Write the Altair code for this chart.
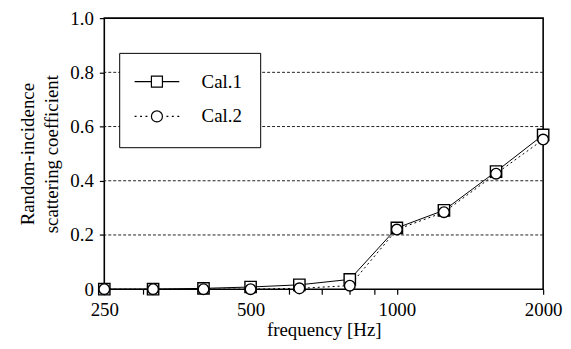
import altair as alt
import pandas as pd

# ---- data ----
freq = [250, 315, 400, 500, 630, 800, 1000, 1250, 1600, 2000]
cal1 = [0.0, 0.0, 0.003, 0.008, 0.016, 0.036, 0.226, 0.291, 0.434, 0.569]
cal2 = [0.0, 0.0, 0.0, 0.0, 0.003, 0.013, 0.220, 0.284, 0.426, 0.552]
series = ["Cal.1", "Cal.2"]

x_ticks = [250, 300, 400, 500, 600, 700, 800, 900, 1000, 2000]
x_labels = [250, 500, 1000, 2000]
y_ticks = [0, 0.1, 0.2, 0.3, 0.4, 0.5, 0.6, 0.7, 0.8, 0.9, 1.0]
y_labels = [0, 0.2, 0.4, 0.6, 0.8, 1.0]
grid_values = [0.2, 0.4, 0.6, 0.8]

FONT = "Liberation Serif"
FS = 19

df = pd.DataFrame({
    "freq": freq * 2,
    "value": cal1 + cal2,
    "series": [series[0]] * len(freq) + [series[1]] * len(freq),
})
grid_df = pd.DataFrame({"g": grid_values})

common_axis = dict(
    labelFont=FONT, labelFontSize=FS, labelColor="black",
    titleFont=FONT, titleFontSize=FS, titleFontWeight="normal", titleColor="black",
    grid=False, domain=False, tickSize=5, tickColor="black", tickWidth=1.2,
    labelOverlap=False,
)

x_enc = alt.X(
    "freq:Q",
    scale=alt.Scale(type="log", domain=[250, 2000], nice=False),
    axis=alt.Axis(
        values=x_ticks,
        labelExpr="indexof(" + str(x_labels) + ", datum.value) >= 0 ? format(datum.value, 'd') : ''",
        title="frequency [Hz]",
        labelFlush=False,
        labelPadding=7,
        titlePadding=1,
        **common_axis,
    ),
)
y_enc = alt.Y(
    "value:Q",
    scale=alt.Scale(domain=[0, 1], nice=False),
    axis=alt.Axis(
        values=y_ticks,
        labelExpr="datum.value == 0 ? '0' : (indexof(" + str(y_labels) + ", datum.value) >= 0 ? format(datum.value, '.1f') : '')",
        title=["Random-incidence", "scattering coefficient"],
        titleLineHeight=25,
        labelPadding=6,
        titlePadding=8,
        **common_axis,
    ),
)

base = alt.Chart(df)

grid = alt.Chart(grid_df).mark_rule(
    color="#222222", strokeWidth=1, strokeDash=[3, 2]
).encode(y=alt.Y("g:Q", scale=alt.Scale(domain=[0, 1], nice=False)))

line1 = base.transform_filter(alt.datum.series == series[0]).mark_line(
    color="black", strokeWidth=1
).encode(x=x_enc, y=y_enc)

line2 = base.transform_filter(alt.datum.series == series[1]).mark_line(
    color="black", strokeWidth=1, strokeDash=[2, 3]
).encode(x=x_enc, y=y_enc)

squares = base.transform_filter(alt.datum.series == series[0]).mark_point(
    shape="square", size=130, filled=True, fill="white", stroke="black", strokeWidth=1.4, opacity=1
).encode(x=x_enc, y=y_enc)

circles = base.transform_filter(alt.datum.series == series[1]).mark_point(
    shape="circle", size=115, filled=True, fill="white", stroke="black", strokeWidth=1.4, opacity=1
).encode(x=x_enc, y=y_enc)

# legend symbols: line + marker drawn as custom symbol paths
path1 = "M-1.5,0H-0.37M0.37,0H1.5M-0.37,-0.37H0.37V0.37H-0.37Z"
path2 = ("M-1.5,0H-1.37M-1.13,0H-1.0M-0.77,0H-0.64"
         "M0.64,0H0.77M1.0,0H1.13M1.37,0H1.5"
         "M0.37,0A0.37,0.37 0 1,1 -0.37,0A0.37,0.37 0 1,1 0.37,0Z")

legend_layer = base.transform_filter("datum.value < -5").mark_point(
    stroke="black", strokeWidth=1.2
).encode(
    x=x_enc,
    y=y_enc,
    shape=alt.Shape(
        "series:N",
        scale=alt.Scale(domain=series, range=[path1, path2]),
        legend=alt.Legend(
            orient="none",
            legendX=15,
            legendY=35,
            # invisible spacer title that widens the legend box
            title="\u2014" * 29,
            titleOrient="bottom",
            titleFont=FONT,
            titleFontSize=4,
            titlePadding=4,
            titleLimit=400,
            titleOpacity=0,
            strokeColor="black",
            fillColor="white",
            padding=13,
            symbolSize=900,
            symbolStrokeWidth=1.2,
            symbolStrokeColor="black",
            symbolOpacity=1,
            symbolOffset=9,
            labelOffset=29,
            rowPadding=9,
            labelFont=FONT,
            labelFontSize=FS,
            labelColor="black",
        ),
    ),
)

chart = alt.layer(grid, line1, line2, squares, circles, legend_layer).properties(
    width=442,
    height=273,
    padding={"left": 97, "top": 9, "right": 20, "bottom": 51},
    autosize=alt.AutoSizeParams(type="none"),
    background="white",
).configure_view(
    stroke="black", strokeWidth=1.6
)

chart.save("out.html", embed_options={"renderer": "svg", "actions": False})
